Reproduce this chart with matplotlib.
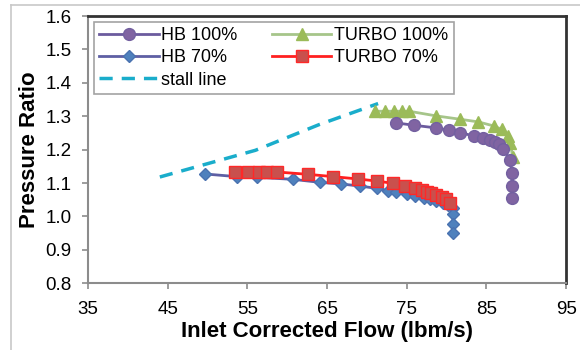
import matplotlib
matplotlib.use("Agg")
import matplotlib.pyplot as plt
from matplotlib.lines import Line2D

plt.rcParams['font.family'] = ['Liberation Sans', 'DejaVu Sans']

# HB 100%
hb100_x = [73.7, 75.9, 78.7, 80.3, 81.7, 83.4, 84.6, 85.4, 86.1, 86.6, 87.1, 88.0, 88.2, 88.2, 88.2]
hb100_y = [1.280, 1.273, 1.265, 1.258, 1.251, 1.241, 1.235, 1.228, 1.223, 1.216, 1.201, 1.169, 1.129, 1.090, 1.055]

# TURBO 100%
tb100_x = [71.0, 72.3, 73.4, 74.4, 75.3, 78.7, 81.7, 84.0, 85.9, 86.9, 87.7, 88.0, 88.3]
tb100_y = [1.315, 1.315, 1.315, 1.315, 1.315, 1.301, 1.291, 1.283, 1.271, 1.261, 1.241, 1.219, 1.178]

# HB 70%
hb70_x = [49.7, 53.7, 56.2, 60.7, 64.1, 66.8, 69.1, 71.2, 72.7, 73.7, 75.0, 76.0, 77.1, 77.9,
          78.7, 79.6, 80.2, 80.8, 80.8, 80.8, 80.8]
hb70_y = [1.127, 1.119, 1.117, 1.111, 1.102, 1.097, 1.091, 1.084, 1.077, 1.072, 1.066, 1.061, 1.056, 1.051,
          1.046, 1.041, 1.034, 1.024, 1.006, 0.976, 0.949]

# TURBO 70%
tb70_x = [53.4, 55.1, 56.4, 57.5, 58.7, 62.6, 65.8, 68.9, 71.2, 73.3, 74.8, 76.0, 76.9, 77.5,
          78.1, 78.7, 79.4, 79.9, 80.4]
tb70_y = [1.134, 1.134, 1.134, 1.133, 1.133, 1.126, 1.119, 1.112, 1.106, 1.099, 1.092, 1.084, 1.079, 1.074,
          1.069, 1.064, 1.059, 1.052, 1.039]

# stall line
stall_x = [44.0, 56.0, 64.0, 71.4]
stall_y = [1.118, 1.198, 1.275, 1.338]

xticks = [35, 45, 55, 65, 75, 85, 95]
yticks = [0.8, 0.9, 1.0, 1.1, 1.2, 1.3, 1.4, 1.5, 1.6]
ytick_labels = ['0.8', '0.9', '1.0', '1.1', '1.2', '1.3', '1.4', '1.5', '1.6']

fig = plt.figure(figsize=(5.8, 3.5), dpi=100)
ax = fig.add_axes([0.152, 0.191, 0.824, 0.763])

ax.plot(hb100_x, hb100_y, '-o', color='#6B5B9E', lw=2, ms=8.5,
        mfc='#8064A2', mec='#7360A0', label='HB 100%', zorder=3)
ax.plot(hb70_x, hb70_y, '-D', color='#5E5FA4', lw=2, ms=6.5,
        mfc='#4F81BD', mec='#4A72B0', label='HB 70%', zorder=3)
ax.plot(stall_x, stall_y, '--', color='#1AADCB', lw=2.5, dashes=(3.8, 2.6),
        label='stall line', zorder=2)
ax.plot(tb100_x, tb100_y, '-^', color='#A6C58A', lw=2, ms=8.5,
        mfc='#9BBB59', mec='#9BBB59', label='TURBO 100%', zorder=2)
ax.plot(tb70_x, tb70_y, '-s', color='#FF2020', lw=2, ms=8.5,
        mfc='#C9504D', mec='#FF2828', label='TURBO 70%', zorder=3)

ax.set_xlim(35, 95)
ax.set_ylim(0.8, 1.6)
ax.set_xticks(xticks)
ax.set_yticks(yticks)
ax.set_yticklabels(ytick_labels)
ax.tick_params(axis='both', direction='out', length=4, width=1.2, color='#8C8C8C',
               labelsize=13.5, labelcolor='black')
ax.tick_params(axis='x', pad=9)
ax.tick_params(axis='y', pad=8)

for s in ['left', 'bottom']:
    ax.spines[s].set_color('#8C8C8C')
    ax.spines[s].set_linewidth(1.5)
for s in ['top', 'right']:
    ax.spines[s].set_color('#333333')
    ax.spines[s].set_linewidth(2)

ax.set_xlabel('Inlet Corrected Flow (lbm/s)', fontsize=16, fontweight='bold', labelpad=2)
ax.set_ylabel('Pressure Ratio', fontsize=16, fontweight='bold', labelpad=4)

leg = ax.legend(loc='upper left', ncol=2, fontsize=13, frameon=True, fancybox=False,
                borderpad=0.3, handlelength=3.3, handletextpad=0.15, columnspacing=1.9,
                labelspacing=0.3, borderaxespad=0.3, edgecolor='#8C8C8C')
leg.get_frame().set_linewidth(1.2)

# light frame of the surrounding figure
fig.add_artist(Line2D([11 / 580, 1], [1 - 5 / 350, 1 - 5 / 350], color='#C8C8C8', lw=1.2))
fig.add_artist(Line2D([11 / 580, 11 / 580], [0, 1 - 5 / 350], color='#C8C8C8', lw=1.2))

fig.savefig('out.png', dpi=100)
